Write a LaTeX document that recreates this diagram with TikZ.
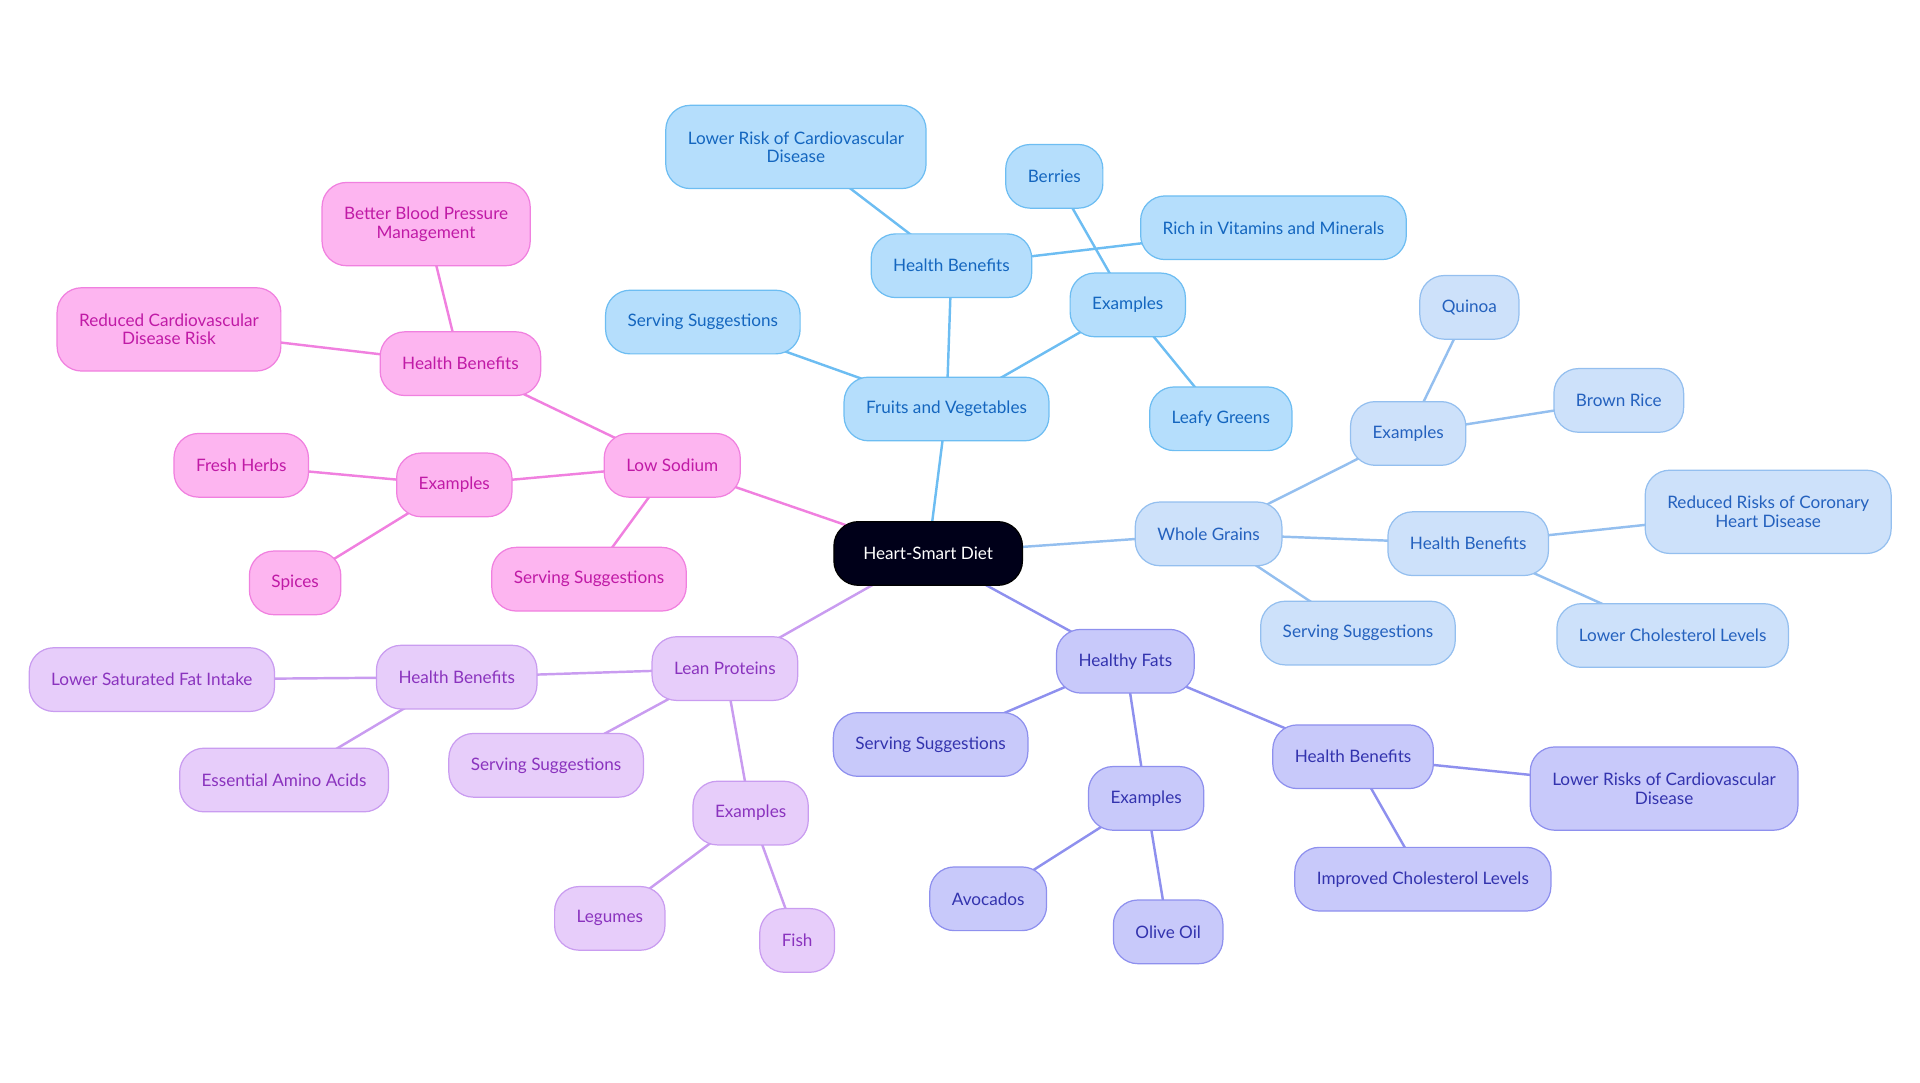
\documentclass[tikz,border=0pt]{standalone}
\usepackage{fontspec}
\setmainfont{Lato}
\usetikzlibrary{backgrounds}
\definecolor{pkF}{HTML}{FDB5F0}\definecolor{pkD}{HTML}{F080DF}\definecolor{pkT}{HTML}{C01AA6}
\definecolor{fvF}{HTML}{B5DEFC}\definecolor{fvD}{HTML}{6DBDF2}\definecolor{fvT}{HTML}{1466BF}
\definecolor{wgF}{HTML}{CDE1FA}\definecolor{wgD}{HTML}{94BFEF}\definecolor{wgT}{HTML}{2461BE}
\definecolor{hfF}{HTML}{C8C9FA}\definecolor{hfD}{HTML}{8E90EE}\definecolor{hfT}{HTML}{3333AE}
\definecolor{lpF}{HTML}{E7CDFA}\definecolor{lpD}{HTML}{C99CF0}\definecolor{lpT}{HTML}{8A33BE}
\tikzset{
 base/.style={rounded corners=20pt,minimum height=52pt,inner xsep=18pt,line width=1pt,align=center,font=\fontsize{14}{15}\selectfont},
 pk/.style={base,fill=pkF,draw=pkD,text=pkT},
 fv/.style={base,fill=fvF,draw=fvD,text=fvT},
 wg/.style={base,fill=wgF,draw=wgD,text=wgT},
 hf/.style={base,fill=hfF,draw=hfD,text=hfT},
 lp/.style={base,fill=lpF,draw=lpD,text=lpT},
 ce/.style={base,fill=black!90!blue,draw=black,text=white,inner xsep=24pt},
 e/.style={line width=2pt}
}
\begin{document}
\begin{tikzpicture}[x=1pt,y=-1pt]
\useasboundingbox (0,0) rectangle (1568,884);
\node[ce] (C) at (758,452) {Heart-Smart Diet};
\node[fv] (FV) at (773,334) {Fruits and Vegetables};
\node[fv] (FVH) at (777,217) {Health Benefits};
\node[fv,minimum height=68pt] (FVH1) at (650,120) {Lower Risk of Cardiovascular\\Disease};
\node[fv] (FVH2) at (1040,186) {Rich in Vitamins and Minerals};
\node[fv] (FVE) at (921,249) {Examples};
\node[fv] (FVE1) at (861,144) {Berries};
\node[fv] (FVE2) at (997,342) {Leafy Greens};
\node[fv] (FVS) at (574,263) {Serving Suggestions};
\node[wg] (WG) at (987,436) {Whole Grains};
\node[wg] (WGE) at (1150,354) {Examples};
\node[wg] (WGE1) at (1200,251) {Quinoa};
\node[wg] (WGE2) at (1322,327) {Brown Rice};
\node[wg] (WGH) at (1199,444) {Health Benefits};
\node[wg,minimum height=68pt] (WGH1) at (1444,418) {Reduced Risks of Coronary\\Heart Disease};
\node[wg] (WGH2) at (1366,519) {Lower Cholesterol Levels};
\node[wg] (WGS) at (1109,517) {Serving Suggestions};
\node[hf] (HF) at (919,540) {Healthy Fats};
\node[hf] (HFS) at (760,608) {Serving Suggestions};
\node[hf] (HFE) at (936,652) {Examples};
\node[hf] (HFE1) at (807,734) {Avocados};
\node[hf] (HFE2) at (954,761) {Olive Oil};
\node[hf] (HFH) at (1105,618) {Health Benefits};
\node[hf,minimum height=68pt] (HFH1) at (1359,644) {Lower Risks of Cardiovascular\\Disease};
\node[hf] (HFH2) at (1162,718) {Improved Cholesterol Levels};
\node[lp] (LP) at (592,546) {Lean Proteins};
\node[lp] (LPH) at (373,553) {Health Benefits};
\node[lp] (LPH1) at (124,555) {Lower Saturated Fat Intake};
\node[lp] (LPH2) at (232,637) {Essential Amino Acids};
\node[lp] (LPS) at (446,625) {Serving Suggestions};
\node[lp] (LPE) at (613,664) {Examples};
\node[lp] (LPE1) at (498,750) {Legumes};
\node[lp] (LPE2) at (651,768) {Fish};
\node[pk] (LS) at (549,380) {Low Sodium};
\node[pk] (LSH) at (376,297) {Health Benefits};
\node[pk,minimum height=68pt] (LSH1) at (348,183) {Better Blood Pressure\\Management};
\node[pk,minimum height=68pt] (LSH2) at (138,269) {Reduced Cardiovascular\\Disease Risk};
\node[pk] (LSE) at (371,396) {Examples};
\node[pk] (LSE1) at (197,380) {Fresh Herbs};
\node[pk] (LSE2) at (241,476) {Spices};
\node[pk] (LSS) at (481,473) {Serving Suggestions};
\begin{scope}[on background layer]
\draw[e,fvD] (C.center)--(FV.center) (FV.center)--(FVH.center) (FVH.center)--(FVH1.center) (FVH.center)--(FVH2.center)
 (FV.center)--(FVE.center) (FVE.center)--(FVE1.center) (FVE.center)--(FVE2.center) (FV.center)--(FVS.center);
\draw[e,wgD] (C.center)--(WG.center) (WG.center)--(WGE.center) (WGE.center)--(WGE1.center) (WGE.center)--(WGE2.center)
 (WG.center)--(WGH.center) (WGH.center)--(WGH1.center) (WGH.center)--(WGH2.center) (WG.center)--(WGS.center);
\draw[e,hfD] (C.center)--(HF.center) (HF.center)--(HFS.center) (HF.center)--(HFE.center) (HFE.center)--(HFE1.center) (HFE.center)--(HFE2.center)
 (HF.center)--(HFH.center) (HFH.center)--(HFH1.center) (HFH.center)--(HFH2.center);
\draw[e,lpD] (C.center)--(LP.center) (LP.center)--(LPH.center) (LPH.center)--(LPH1.center) (LPH.center)--(LPH2.center)
 (LP.center)--(LPS.center) (LP.center)--(LPE.center) (LPE.center)--(LPE1.center) (LPE.center)--(LPE2.center);
\draw[e,pkD] (C.center)--(LS.center) (LS.center)--(LSH.center) (LSH.center)--(LSH1.center) (LSH.center)--(LSH2.center)
 (LS.center)--(LSE.center) (LSE.center)--(LSE1.center) (LSE.center)--(LSE2.center) (LS.center)--(LSS.center);
\end{scope}
\end{tikzpicture}
\end{document}
